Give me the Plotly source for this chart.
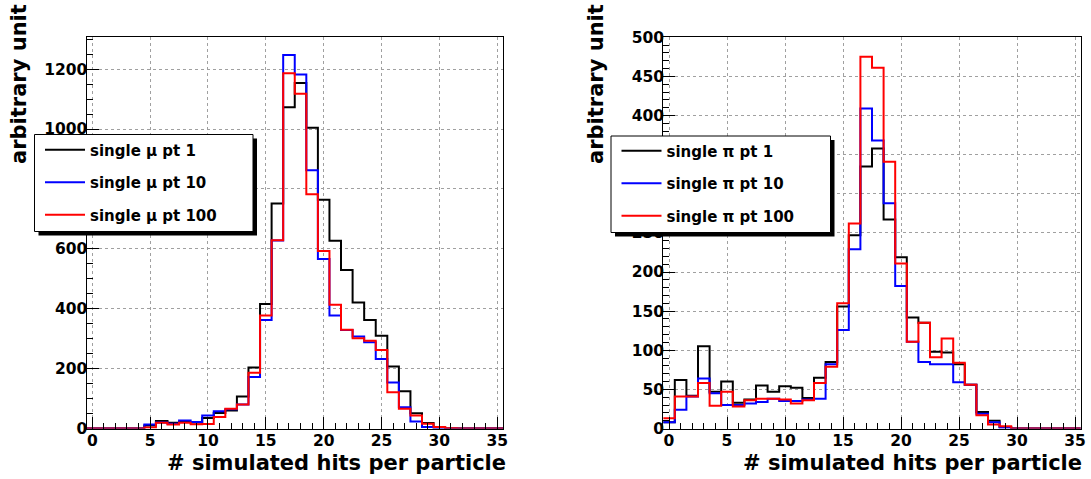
import plotly.graph_objects as go

W, H = 1091, 479

# ---------------- data (bin centres 0..35, unit width) ----------------
bins = list(range(36))

mu_pt1 = [0, 0, 0, 0, 0, 10, 25, 19, 22, 20, 35, 52, 60, 107, 204, 416, 751, 1073,
          1154, 1004, 764, 627, 529, 421, 362, 310, 207, 124, 51, 18, 4, 0, 0, 0, 0, 0]
mu_pt10 = [0, 0, 0, 0, 0, 13, 20, 16, 27, 22, 43, 58, 64, 80, 172, 362, 628, 1247,
           1182, 862, 566, 377, 329, 307, 288, 232, 154, 71, 23, 5, 2, 0, 0, 0, 0, 0]
mu_pt100 = [0, 0, 0, 0, 0, 3, 19, 13, 19, 14, 15, 38, 66, 80, 186, 377, 629, 1186,
            1118, 782, 593, 413, 330, 301, 293, 262, 121, 66, 43, 16, 5, 1, 0, 0, 0, 0]

pi_pt1 = [8, 62, 42, 105, 47, 60, 33, 37, 55, 47, 54, 52, 39, 65, 85, 156, 247, 335,
          358, 267, 219, 142, 135, 98, 97, 82, 56, 21, 10, 2, 0, 0, 0, 0, 0, 0]
pi_pt10 = [8, 24, 41, 64, 45, 30, 30, 32, 34, 38, 35, 35, 37, 38, 82, 126, 229, 409,
           368, 288, 182, 111, 85, 82, 82, 59, 56, 19, 8, 1, 0, 0, 0, 0, 0, 0]
pi_pt100 = [13, 41, 41, 58, 29, 47, 28, 36, 38, 38, 37, 32, 36, 58, 79, 160, 262, 475,
            461, 341, 211, 111, 135, 91, 115, 84, 56, 17, 5, 3, 0, 0, 0, 0, 0, 0]

mu_names = ["single \u03bc pt 1", "single \u03bc pt 10", "single \u03bc pt 100"]
pi_names = ["single \u03c0 pt 1", "single \u03c0 pt 10", "single \u03c0 pt 100"]
colors = ["#000000", "#0000ff", "#ff0000"]

x_title = "# simulated hits per particle"
y_title = "arbitrary unit"


def steps(vals):
    edges = [b - 0.5 for b in bins] + [bins[-1] + 0.5]
    return edges, list(vals) + [vals[-1]]


def px(x):
    return x / W


def py(y):
    return 1 - y / H


fig = go.Figure()
for name, vals, col in zip(mu_names, [mu_pt1, mu_pt10, mu_pt100], colors):
    xs, ys = steps(vals)
    fig.add_trace(go.Scatter(x=xs, y=ys, mode="lines", name=name,
                             line=dict(color=col, width=2, shape="hv"),
                             xaxis="x", yaxis="y", legend="legend",
                             legendgroup=name, hoverinfo="skip"))
for name, vals, col in zip(pi_names, [pi_pt1, pi_pt10, pi_pt100], colors):
    xs, ys = steps(vals)
    fig.add_trace(go.Scatter(x=xs, y=ys, mode="lines", name=name,
                             line=dict(color=col, width=2, shape="hv"),
                             xaxis="x2", yaxis="y2", legend="legend2",
                             legendgroup=name, hoverinfo="skip"))

tickfont = dict(family="DejaVu Sans", size=15.5, color="black", weight="bold")
titlefont = dict(family="DejaVu Sans", size=21, color="black", weight="bold")
legfont = dict(family="DejaVu Sans", size=15, color="black", weight="bold")

common_x = dict(range=[-0.5, 35.5], tick0=0, dtick=5, ticks="inside", ticklen=12,
                tickwidth=1, tickcolor="black", showline=True, mirror=True,
                linecolor="black", linewidth=1, showgrid=True, gridcolor="#a0a0a0",
                griddash="dot", gridwidth=1, zeroline=False, tickfont=tickfont,
                automargin=False, ticklabelstandoff=-2,
                minor=dict(dtick=1, ticks="inside", ticklen=6, tickcolor="black",
                           showgrid=False))
common_y = dict(ticks="inside", ticklen=12, tickwidth=1, tickcolor="black",
                showline=True, mirror=True, linecolor="black", linewidth=1,
                showgrid=True, gridcolor="#a0a0a0", griddash="dot", gridwidth=1,
                zeroline=False, tickfont=tickfont, tick0=0, automargin=False,
                ticklabelstandoff=-5)

ydom = [py(428.5), py(36.5)]
fig.update_layout(
    width=W, height=H, margin=dict(l=0, r=0, t=0, b=0, autoexpand=False),
    paper_bgcolor="white", plot_bgcolor="white",
    xaxis=dict(domain=[px(86.5), px(503)], anchor="y", **common_x),
    yaxis=dict(domain=ydom, anchor="x", range=[0, 1309], dtick=200,
               minor=dict(dtick=50, ticks="inside", ticklen=6, tickcolor="black",
                          showgrid=False), **common_y),
    xaxis2=dict(domain=[px(663.2), px(1080.8)], anchor="y2", **common_x),
    yaxis2=dict(domain=ydom, anchor="x2", range=[0, 501], dtick=50,
                minor=dict(dtick=10, ticks="inside", ticklen=6, tickcolor="black",
                           showgrid=False), **common_y),
    legend=dict(x=px(40), y=py(133.5), xanchor="left", yanchor="top",
                bgcolor="rgba(0,0,0,0)", borderwidth=0, font=legfont,
                tracegroupgap=10, traceorder="grouped", itemwidth=40),
    legend2=dict(x=px(616.5), y=py(134.5), xanchor="left", yanchor="top",
                 bgcolor="rgba(0,0,0,0)", borderwidth=0, font=legfont,
                 tracegroupgap=10, traceorder="grouped", itemwidth=40),
    showlegend=True,
)

# legend boxes with ROOT-style shadow
shapes = []
for (x0, y0, x1, y1) in [(34.5, 134.5, 253, 231.5), (611, 136, 830.5, 232.5)]:
    shapes.append(dict(type="rect", xref="paper", yref="paper", layer="above",
                       x0=px(x0 + 4), x1=px(x1 + 4), y0=py(y1 + 4), y1=py(y0 + 4),
                       fillcolor="black", line=dict(width=0)))
    shapes.append(dict(type="rect", xref="paper", yref="paper", layer="above",
                       x0=px(x0), x1=px(x1), y0=py(y1), y1=py(y0),
                       fillcolor="white", line=dict(color="black", width=1)))
fig.update_layout(shapes=shapes)

annotations = []
for xr in [508, 1084]:
    annotations.append(dict(text=x_title, xref="paper", yref="paper", x=px(xr),
                            y=py(463), xanchor="right", yanchor="middle",
                            showarrow=False, font=titlefont))
for xc in [19, 596]:
    annotations.append(dict(text=y_title, xref="paper", yref="paper", x=px(xc),
                            y=py(2), xanchor="center", yanchor="top", textangle=-90,
                            showarrow=False, font=titlefont))
fig.update_layout(annotations=annotations)

fig.write_html("out.html", config={"displayModeBar": False},
               post_script="document.body.style.margin='0';"
                           "document.body.style.overflow='hidden';")
